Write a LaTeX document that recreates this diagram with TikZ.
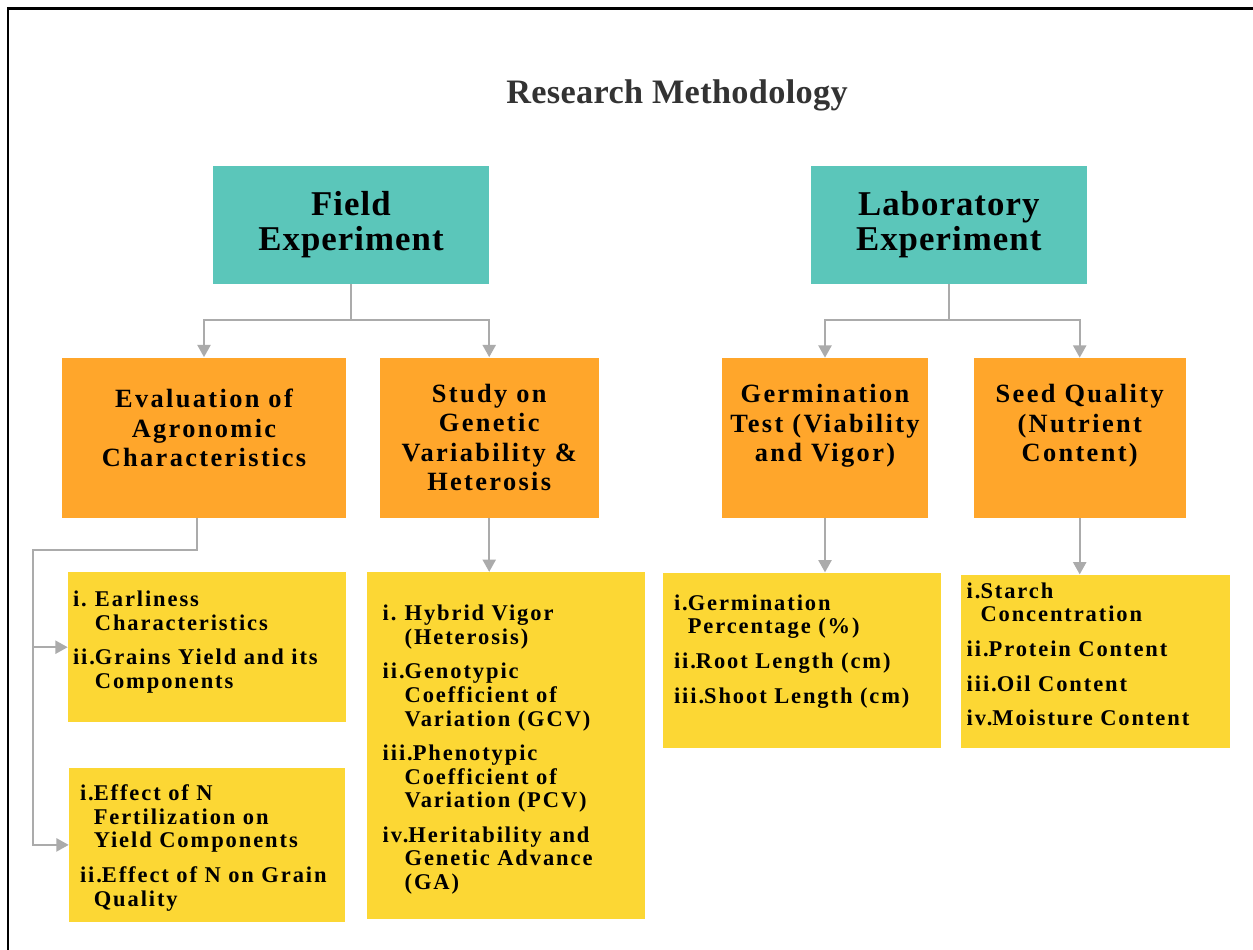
\documentclass[tikz,border=0pt]{standalone}
\usepackage{fontspec}
\usepackage{tikz}
\usetikzlibrary{positioning,arrows.meta}

\newfontfamily\titlefont[LetterSpace=1]{Liberation Serif}
\newfontfamily\headfont[LetterSpace=3]{Liberation Serif}
\newfontfamily\subfont[LetterSpace=9]{Liberation Serif}
\newfontfamily\listfont[LetterSpace=8.5]{Liberation Serif}

\definecolor{tealbox}{HTML}{5BC6BA}
\definecolor{orangebox}{HTML}{FFA62B}
\definecolor{yellowbox}{HTML}{FCD734}
\definecolor{linegray}{HTML}{ABABAB}
\definecolor{titlegray}{HTML}{333333}

\newlength\lblw
\newsavebox\lblbox
\newcommand\listinit[1]{\settowidth\lblw{#1}\setlength\parskip{0pt}\def\lsep{}}
\newcommand\litem[2]{\lsep\def\lsep{\vspace{6.3pt}}\noindent\hangindent=\lblw\hangafter=1%
  \sbox\lblbox{#1}\ifdim\wd\lblbox<\lblw\makebox[\lblw][l]{#1}\else\usebox\lblbox\fi#2\par}

\begin{document}
\begin{tikzpicture}[
  titletext/.style={inner sep=0pt, text=titlegray, font={\titlefont\bfseries\fontsize{19.5}{20}\selectfont}},
  head/.style={fill=tealbox, minimum width=5.52cm, minimum height=2.36cm, inner sep=0pt, align=center, font={\headfont\bfseries\fontsize{19.8}{20}\selectfont}},
  sub/.style={fill=orangebox, minimum width=#1, minimum height=3.2cm, inner sep=0pt, align=center, font={\subfont\bfseries\fontsize{15}{16.8}\selectfont}},
  res/.style 2 args={fill=yellowbox, minimum width=#1, minimum height=#2, inner sep=0pt},
  restext/.style={anchor=north west, inner sep=0pt, text width=6cm, align=left, font={\listfont\bfseries\fontsize{12.8}{13.4}\selectfont}},
  conn/.style={draw=linegray, line width=1.1pt, -{Triangle[width=7.5pt,length=7pt]}}
]
  \useasboundingbox (0,0) rectangle (25.06,-19);
  \draw[line width=1.2pt] (0.16,-19) -- (0.16,-0.17) -- (25.06,-0.17);

  % Title
  \node[titletext] (title) at (13.54,-1.9) {Research Methodology}; %

  % Experiments
  \node[head]                   (field) at (7.02,-4.5) {Field\\Experiment}; %
  \node[head, right=6.42 of field] (lab)                {Laboratory\\Experiment}; %

  % Studies
  \node[sub=5.68cm, text depth=0.38cm]       (eval)  at (4.08,-8.75) {Evaluation of\\Agronomic\\Characteristics}; %
  \node[sub=4.38cm, right=0.66 of eval]      (study)                 {Study on\\Genetic\\Variability \&\\Heterosis}; %
  \node[sub=4.12cm, text depth=0.6cm]        (germ)  at (16.5,-8.76) {Germination\\Test (Viability\\and Vigor)}; %
  \node[sub=4.24cm, text depth=0.6cm, right=0.9 of germ] (seed)      {Seed Quality\\(Nutrient\\Content)}; %

  % Results
  \node[res={5.56cm}{3.0cm},  below=1.08 of eval, xshift=0.06cm]   (eval-r1)  {}; %
  \node[res={5.52cm}{3.08cm}, below=0.9 of eval-r1]                (eval-r2)  {}; %
  \node[res={5.56cm}{6.94cm}, below=1.08 of study, xshift=0.33cm]  (study-r)  {}; %
  \node[res={5.56cm}{3.5cm},  below=1.08 of germ, xshift=-0.46cm]  (germ-r)   {}; %
  \node[res={5.38cm}{3.46cm}, below=1.12 of seed, xshift=0.31cm]   (seed-r)   {}; %

  \node[restext, below right=0.38 and 0.1 of eval-r1.north west] (eval-t1) {\listinit{ii.}%
    \litem{i.}{Earliness\newline Characteristics}%
    \litem{ii.}{Grains Yield and its\newline Components}}; %
  \node[restext, below right=0.34 and 0.22 of eval-r2.north west] (eval-t2) {\listinit{i.}%
    \litem{i.}{Effect of N\newline Fertilization on\newline Yield Components}%
    \litem{ii.}{Effect of N on Grain\newline Quality}}; %
  \node[restext, below right=0.66 and 0.32 of study-r.north west] (study-t) {\listinit{ii.}%
    \litem{i.}{Hybrid Vigor\newline (Heterosis)}%
    \litem{ii.}{Genotypic\newline Coefficient of\newline Variation (GCV)}%
    \litem{iii.}{Phenotypic\newline Coefficient of\newline Variation (PCV)}%
    \litem{iv.}{Heritability and\newline Genetic Advance\newline (GA)}}; %
  \node[restext, below right=0.44 and 0.22 of germ-r.north west] (germ-t) {\listinit{i.}%
    \litem{i.}{Germination\newline Percentage (\%)}%
    \litem{ii.}{Root Length (cm)}%
    \litem{iii.}{Shoot Length (cm)}}; %
  \node[restext, below right=0.16 and 0.12 of seed-r.north west] (seed-t) {\listinit{i.}%
    \litem{i.}{Starch\newline Concentration}%
    \litem{ii.}{Protein Content}%
    \litem{iii.}{Oil Content}%
    \litem{iv.}{Moisture Content}}; %

  % Edges
  \draw[conn] (field.south) -- ++(0,-0.72) -| (eval.north); %
  \draw[conn] (field.south) -- ++(0,-0.72) -| (study.north); %
  \draw[conn] (lab.south) -- ++(0,-0.72) -| (germ.north); %
  \draw[conn] (lab.south) -- ++(0,-0.72) -| (seed.north); %

  \coordinate (bus) at (0.66,-11); %
  \draw[conn] ([xshift=-0.14cm]eval.south) |- (bus) |- (eval-r2.west); %
  \draw[conn] (bus) |- (eval-r1.west); %

  \draw[conn] (study.south) -- (study.south |- study-r.north); %
  \draw[conn] (germ.south) -- (germ.south |- germ-r.north); %
  \draw[conn] (seed.south) -- (seed.south |- seed-r.north); %

\end{tikzpicture}
\end{document}
